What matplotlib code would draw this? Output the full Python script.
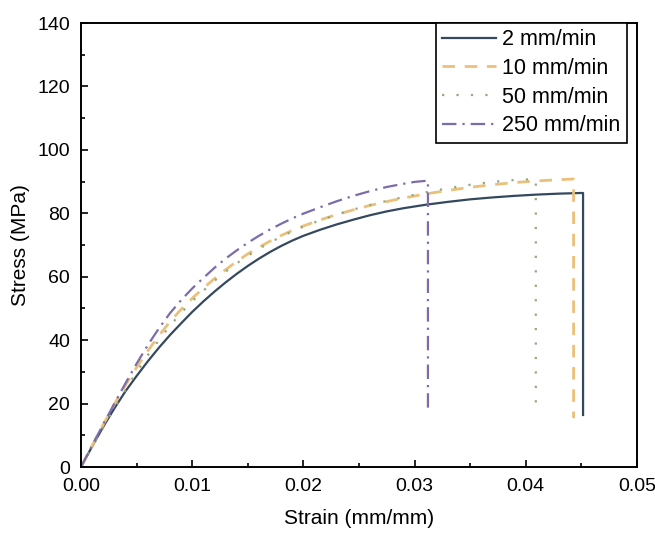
import matplotlib.pyplot as plt

plt.rcParams['font.family'] = ['Liberation Sans', 'DejaVu Sans']

# strain (mm/mm) / stress (MPa)
strain_2 = [0, 0.001, 0.002, 0.003, 0.004, 0.005, 0.006, 0.007, 0.008, 0.009,
            0.010, 0.011, 0.012, 0.013, 0.014, 0.015, 0.016, 0.017, 0.018, 0.019,
            0.020, 0.0215, 0.023, 0.0245, 0.026, 0.0275, 0.029, 0.031, 0.033, 0.035,
            0.037, 0.039, 0.041, 0.043, 0.045, 0.04515, 0.04515]
stress_2 = [0, 6.5, 12.7, 18.5, 23.9, 28.7, 33.3, 37.6, 41.6, 45.3,
            48.9, 52.2, 55.3, 58.2, 60.9, 63.4, 65.7, 67.8, 69.7, 71.4,
            72.9, 74.8, 76.5, 78.0, 79.4, 80.6, 81.6, 82.7, 83.6, 84.4,
            85.0, 85.5, 85.9, 86.2, 86.4, 86.4, 16.4]

strain_10 = [0, 0.001, 0.002, 0.003, 0.004, 0.005, 0.006, 0.007, 0.008, 0.009,
             0.010, 0.011, 0.012, 0.013, 0.014, 0.015, 0.016, 0.017, 0.018, 0.019,
             0.020, 0.0215, 0.023, 0.0245, 0.026, 0.0275, 0.029, 0.031, 0.033, 0.035,
             0.037, 0.039, 0.041, 0.043, 0.0443, 0.0443]
stress_10 = [0, 6.8, 13.4, 19.8, 25.8, 31.4, 36.6, 41.4, 45.8, 49.7,
             53.2, 56.4, 59.4, 62.2, 64.8, 67.2, 69.3, 71.2, 73.0, 74.6,
             76.0, 77.9, 79.6, 81.1, 82.5, 83.7, 84.8, 86.1, 87.2, 88.2,
             89.0, 89.7, 90.2, 90.6, 90.8, 15.4]

strain_50 = [0, 0.001, 0.002, 0.003, 0.004, 0.005, 0.006, 0.007, 0.008, 0.009,
             0.010, 0.011, 0.012, 0.013, 0.014, 0.015, 0.016, 0.017, 0.018, 0.019,
             0.020, 0.0215, 0.023, 0.0245, 0.026, 0.0275, 0.029, 0.031, 0.033, 0.035,
             0.037, 0.039, 0.0409, 0.0409]
stress_50 = [0, 6.3, 12.5, 18.6, 24.4, 30.0, 35.2, 40.0, 44.5, 48.6,
             52.3, 55.6, 58.7, 61.6, 64.2, 66.6, 68.8, 70.8, 72.6, 74.3,
             75.8, 77.8, 79.6, 81.2, 82.6, 83.9, 85.1, 86.6, 87.9, 89.0,
             89.9, 90.5, 90.8, 18.0]

strain_250 = [0, 0.001, 0.002, 0.003, 0.004, 0.005, 0.006, 0.007, 0.008, 0.009,
              0.010, 0.011, 0.012, 0.013, 0.014, 0.015, 0.016, 0.017, 0.018, 0.019,
              0.020, 0.0215, 0.023, 0.0245, 0.026, 0.0275, 0.029, 0.030, 0.0312, 0.0312]
stress_250 = [0, 6.8, 13.5, 20.0, 26.4, 32.6, 38.4, 43.7, 48.5, 52.6,
              56.3, 59.6, 62.8, 65.7, 68.3, 70.7, 72.9, 74.9, 76.7, 78.4,
              79.9, 81.9, 83.8, 85.5, 87.0, 88.3, 89.3, 89.9, 90.3, 18.0]

labels = ['2 mm/min', '10 mm/min', '50 mm/min', '250 mm/min']

fig = plt.figure(figsize=(6.55, 5.35), dpi=100)
ax = fig.add_axes([0.1237, 0.1271, 0.8488, 0.8299])

ax.plot(strain_2, stress_2, color='#34495e', lw=1.6, linestyle='-', label=labels[0])
ax.plot(strain_10, stress_10, color='#ebc07a', lw=2.0, linestyle=(0, (4.5, 3.5)), label=labels[1])
ax.plot(strain_50, stress_50, color='#93a97f', lw=1.6, linestyle=(0, (1, 5.5)), label=labels[2])
ax.plot(strain_250, stress_250, color='#7d6cab', lw=1.6, linestyle=(0, (6.5, 2.7, 1, 2.7)), label=labels[3])

ax.set_xlim(0, 0.05)
ax.set_ylim(0, 140)
ax.set_xticks([0, 0.01, 0.02, 0.03, 0.04, 0.05])
ax.set_xticklabels(['0.00', '0.01', '0.02', '0.03', '0.04', '0.05'])
ax.set_yticks(range(0, 141, 20))
ax.set_xticks([0.005, 0.015, 0.025, 0.035, 0.045], minor=True)
ax.set_yticks(range(10, 140, 20), minor=True)
ax.tick_params(which='both', direction='in', labelsize=14, width=1.2, top=False, right=False)
ax.tick_params(which='major', length=5)
ax.tick_params(which='minor', length=3)
ax.tick_params(axis='x', pad=8)
ax.tick_params(axis='y', pad=8)
for s in ax.spines.values():
    s.set_linewidth(1.4)

ax.set_xlabel('Strain (mm/mm)', fontsize=15, labelpad=10)
ax.set_ylabel('Stress (MPa)', fontsize=15, labelpad=5)

leg = ax.legend(loc='upper right', bbox_to_anchor=(0.982, 1.0), borderaxespad=0,
                fontsize=15.5, fancybox=False, framealpha=1, edgecolor='black',
                handlelength=2.5, handletextpad=0.3, labelspacing=0.35,
                borderpad=0.3)
leg.get_frame().set_linewidth(1.2)

fig.savefig('out.png', dpi=100)
